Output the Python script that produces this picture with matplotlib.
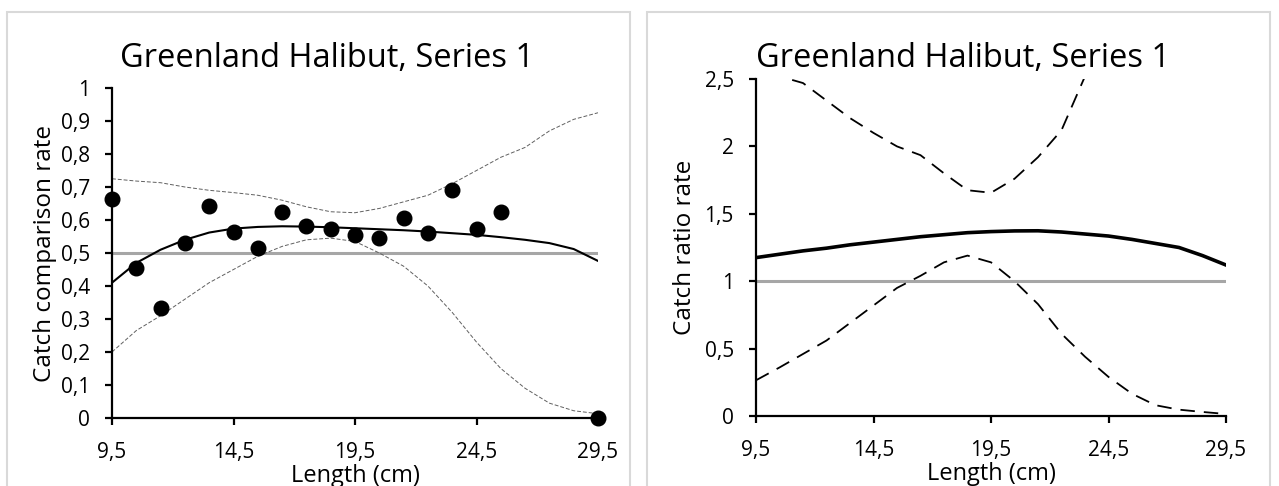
import matplotlib.pyplot as plt
from matplotlib.patches import Rectangle

# --- données ---
length_pts = [9.5, 10.5, 11.5, 12.5, 13.5, 14.5, 15.5, 16.5, 17.5, 18.5,
              19.5, 20.5, 21.5, 22.5, 23.5, 24.5, 25.5, 29.5]
cc_obs = [0.665, 0.454, 0.333, 0.531, 0.643, 0.564, 0.514, 0.625, 0.583, 0.574,
          0.555, 0.546, 0.605, 0.561, 0.691, 0.572, 0.625, 0.0]

length = [9.5, 10.5, 11.5, 12.5, 13.5, 14.5, 15.5, 16.5, 17.5, 18.5, 19.5,
          20.5, 21.5, 22.5, 23.5, 24.5, 25.5, 26.5, 27.5, 28.5, 29.5]
cc_fit = [0.41, 0.47, 0.51, 0.54, 0.562, 0.574, 0.579, 0.581, 0.580, 0.578, 0.575,
          0.572, 0.569, 0.565, 0.560, 0.555, 0.548, 0.540, 0.530, 0.512, 0.476]
cc_upper = [0.725, 0.718, 0.713, 0.70, 0.69, 0.683, 0.675, 0.66, 0.64, 0.625, 0.622,
            0.635, 0.655, 0.675, 0.71, 0.75, 0.79, 0.82, 0.87, 0.905, 0.925]
cc_lower = [0.20, 0.265, 0.31, 0.36, 0.41, 0.45, 0.49, 0.52, 0.54, 0.545, 0.535,
            0.50, 0.46, 0.40, 0.32, 0.23, 0.15, 0.09, 0.045, 0.022, 0.013]

cr_fit = [1.175, 1.20, 1.225, 1.245, 1.27, 1.29, 1.31, 1.33, 1.345, 1.36, 1.368,
          1.373, 1.374, 1.365, 1.35, 1.335, 1.31, 1.28, 1.25, 1.19, 1.12]
cr_upper = [2.70, 2.52, 2.47, 2.34, 2.21, 2.10, 2.00, 1.935, 1.80, 1.675, 1.656,
            1.76, 1.92, 2.12, 2.52, 3.20, 4.0, 5.0, 6.0, 7.0, 8.0]
cr_lower = [0.265, 0.36, 0.46, 0.56, 0.69, 0.82, 0.95, 1.04, 1.14, 1.19, 1.14,
            1.0, 0.83, 0.61, 0.44, 0.29, 0.165, 0.08, 0.047, 0.03, 0.015]

x_ticks = [9.5, 14.5, 19.5, 24.5, 29.5]
x_labels = ['9,5', '14,5', '19,5', '24,5', '29,5']
cc_ticks = [0, 0.1, 0.2, 0.3, 0.4, 0.5, 0.6, 0.7, 0.8, 0.9, 1]
cc_labels = ['0', '0,1', '0,2', '0,3', '0,4', '0,5', '0,6', '0,7', '0,8', '0,9', '1']
cr_ticks = [0, 0.5, 1, 1.5, 2, 2.5]
cr_labels = ['0', '0,5', '1', '1,5', '2', '2,5']

plt.rcParams['font.family'] = ['Open Sans', 'DejaVu Sans']

W, H = 1279, 486
fig = plt.figure(figsize=(W / 100, H / 100), dpi=100)

# cadres des deux graphiques
for x0 in (7, 647):
    fig.patches.append(Rectangle((x0 / W, -0.1), 623 / W, 1.1 - 12 / H,
                                 transform=fig.transFigure, fill=False,
                                 edgecolor='#d9d9d9', linewidth=1.5))


def style_axes(ax, yticks, ylabels, ylab, ylab_x):
    ax.set_xlim(9.5, 29.5)
    ax.set_xticks(x_ticks)
    ax.set_xticklabels(x_labels)
    ax.set_yticks(yticks)
    ax.set_yticklabels(ylabels)
    for s in ('top', 'right'):
        ax.spines[s].set_visible(False)
    for s in ('left', 'bottom'):
        ax.spines[s].set_linewidth(1.6)
    ax.tick_params(direction='out', length=5, width=1.6, labelsize=15)
    ax.tick_params(axis='y', pad=11)
    ax.tick_params(axis='x', pad=12)
    ax.set_xlabel('Length (cm)', fontsize=17, labelpad=1)
    ax.set_ylabel(ylab, fontsize=17.5)
    ax.yaxis.set_label_coords(ylab_x, 0.5)


# --- gauche : catch comparison rate ---
ax1 = fig.add_axes([112 / W, 1 - 418 / H, 486 / W, 330 / H])
ax1.set_ylim(0, 1)
ax1.plot([9.5, 29.5], [0.5, 0.5], color='#a6a6a6', lw=2.2, zorder=1)
ax1.plot(length, cc_upper, color='#606060', lw=0.7, ls=(0, (4, 2)), zorder=2)
ax1.plot(length, cc_lower, color='#606060', lw=0.7, ls=(0, (4, 2)), zorder=2)
ax1.plot(length, cc_fit, color='black', lw=1.5, zorder=3)
ax1.plot(length_pts, cc_obs, 'o', color='black', ms=10.5, zorder=4, clip_on=False)
style_axes(ax1, cc_ticks, cc_labels, 'Catch comparison rate', (57 - 112) / 486)
fig.text(327 / W, 1 - 67 / H, 'Greenland Halibut, Series 1', ha='center',
         va='baseline', fontsize=23.5)

# --- droite : catch ratio rate ---
ax2 = fig.add_axes([756 / W, 1 - 416 / H, 470 / W, 337 / H])
ax2.set_ylim(0, 2.5)
ax2.plot([9.5, 29.5], [1, 1], color='#a6a6a6', lw=2.2, zorder=1)
ax2.plot(length, cr_upper, color='black', lw=1.3, ls=(0, (8, 5)), zorder=2)
ax2.plot(length, cr_lower, color='black', lw=1.3, ls=(0, (8, 5)), zorder=2)
ax2.plot(length, cr_fit, color='black', lw=2.6, zorder=3)
style_axes(ax2, cr_ticks, cr_labels, 'Catch ratio rate', (697 - 756) / 470)
fig.text(963 / W, 1 - 67 / H, 'Greenland Halibut, Series 1', ha='center',
         va='baseline', fontsize=23.5)

fig.savefig('out.png', dpi=100)
